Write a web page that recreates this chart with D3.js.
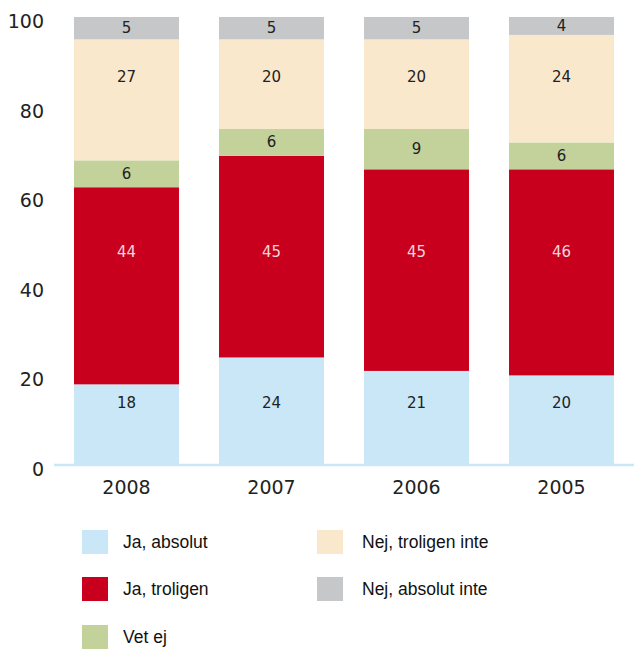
<!DOCTYPE html>
<html><head><meta charset="utf-8">
<script src="https://cdn.jsdelivr.net/npm/d3@7/dist/d3.min.js"></script>
<style>body{margin:0;background:#fff}svg{display:block}</style>
</head><body>
<svg id="c" width="634" height="650"></svg>
<script>
const years = ["2008", "2007", "2006", "2005"];
const seriesNames = ["Ja, absolut", "Ja, troligen", "Vet ej", "Nej, troligen inte", "Nej, absolut inte"];
const jaAbsolut = [18, 24, 21, 20];
const jaTroligen = [44, 45, 45, 46];
const vetEj = [6, 6, 9, 6];
const nejTroligenInte = [27, 20, 20, 24];
const nejAbsolutInte = [5, 5, 5, 4];
const yTicks = [0, 20, 40, 60, 80, 100];
const colors = ["#c9e7f7", "#c8001e", "#c3d19b", "#fae8cc", "#c6c7c9"];
// label anchor (data units) per series; null = centred in segment
const labelAnchor = [13.8, 47.5, null, 86.6, null];

const svg = d3.select("#c");
const x = d3.scaleBand().domain(years).range([54, 634]).paddingInner(0.276).paddingOuter(0.138);
const y = d3.scaleLinear().domain([0, 100]).range([465, 17]);

const values = [jaAbsolut, jaTroligen, vetEj, nejTroligenInte, nejAbsolutInte];
const table = years.map((yr, i) => {
  const o = {year: yr};
  seriesNames.forEach((s, k) => o[s] = values[k][i]);
  return o;
});
const stack = d3.stack().keys(seriesNames)(table);

const g = svg.append("g");
stack.forEach((layer, k) => {
  g.selectAll(null).data(layer).enter().append("rect")
    .attr("x", d => x(d.data.year))
    .attr("width", x.bandwidth())
    .attr("y", d => y(d[1]))
    .attr("height", d => y(d[0]) - y(d[1]))
    .attr("fill", colors[k]);
  g.selectAll(null).data(layer).enter().append("text")
    .attr("x", d => x(d.data.year) + x.bandwidth() / 2)
    .attr("y", d => labelAnchor[k] === null ? y((d[0] + d[1]) / 2) : y(labelAnchor[k]))
    .attr("text-anchor", "middle")
    .attr("dominant-baseline", "central")
    .attr("font-family", "DejaVu Sans")
    .attr("font-size", 15)
    .attr("fill", k === 1 ? "#f3d6da" : "#222")
    .text(d => d.data[seriesNames[k]]);
});

// baseline
svg.append("line").attr("x1", 54).attr("x2", 634).attr("y1", y(0)).attr("y2", y(0))
  .attr("stroke", "#c9e7f7").attr("stroke-width", 2.5);

// y tick labels
svg.selectAll(null).data(yTicks).enter().append("text")
  .attr("x", 44).attr("y", d => y(d) + 4)
  .attr("text-anchor", "end").attr("dominant-baseline", "central")
  .attr("font-family", "DejaVu Sans").attr("font-size", 19).attr("fill", "#222")
  .text(d => d);

// x labels
svg.selectAll(null).data(years).enter().append("text")
  .attr("x", d => x(d) + x.bandwidth() / 2).attr("y", 487)
  .attr("text-anchor", "middle").attr("dominant-baseline", "central")
  .attr("font-family", "DejaVu Sans").attr("font-size", 19).attr("fill", "#222")
  .text(d => d);

// legend
const legendPos = [[82, 530], [82, 577], [82, 625], [317, 530], [317, 577]];
seriesNames.forEach((s, k) => {
  const [lx, ly] = legendPos[k];
  svg.append("rect").attr("x", lx).attr("y", ly).attr("width", 26).attr("height", 24).attr("fill", colors[k]);
  svg.append("text").attr("x", lx + 41 + (k >= 3 ? 4 : 0)).attr("y", ly + 12)
    .attr("dominant-baseline", "central")
    .attr("font-family", "Liberation Sans, Arial").attr("font-size", 17.5).attr("fill", "#111")
    .text(s);
});
</script>
</body></html>
